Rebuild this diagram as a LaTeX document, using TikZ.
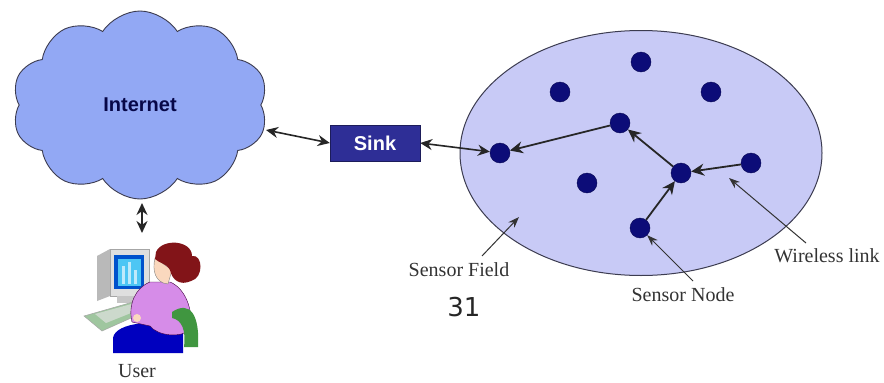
\documentclass[tikz,border=0pt]{standalone}
\usepackage{fontspec}
\setmainfont{Liberation Serif}
\newfontfamily\headsans{Liberation Sans}
\newfontfamily\numsans{DejaVu Sans}
\usetikzlibrary{shapes.symbols,shapes.geometric,arrows.meta}
\definecolor{cloudblue}{RGB}{146,168,244}
\definecolor{fieldblue}{RGB}{200,202,246}
\definecolor{nodeblue}{RGB}{12,12,120}
\definecolor{sinkblue}{RGB}{46,46,150}
\definecolor{edgegray}{RGB}{60,60,80}
\definecolor{blouse}{RGB}{214,140,232}
\definecolor{hair}{RGB}{130,20,24}
\definecolor{skin}{RGB}{250,216,190}
\begin{document}
\begin{tikzpicture}[x=1pt,y=-1pt,
  sensor/.style={circle,fill=nodeblue,draw=nodeblue!70!black,inner sep=0pt,minimum size=20pt},
  link/.style={draw=black!85,line width=1.8pt,-{Stealth[length=13pt,width=12pt]}},
  dlink/.style={draw=black!85,line width=1.6pt,{Stealth[length=12pt,width=11pt]}-{Stealth[length=12pt,width=11pt]}},
  pointer/.style={draw=black!80,line width=1pt,-{Stealth[length=11pt,width=8pt]}},
  lbl/.style={font=\fontsize{20}{22}\selectfont,text=black!80,inner sep=1pt}]
\useasboundingbox[fill=white] (0,0) rectangle (884,383);

% internet cloud
\node[cloud,cloud puffs=10,cloud puff arc=115,aspect=1.35,fill=cloudblue,draw=edgegray,line width=0.9pt,
  minimum width=256pt,minimum height=188pt,font=\headsans\bfseries\fontsize{20}{22}\selectfont,text=nodeblue!60!black]
  (net) at (140,105) {Internet};

% sink
\node[rectangle,fill=sinkblue,draw=sinkblue!60!black,minimum width=90pt,minimum height=36pt,
  font=\headsans\bfseries\fontsize{20}{22}\selectfont,text=white] (sink) at (375,143) {Sink};

% sensor field
\node[ellipse,fill=fieldblue,draw=edgegray,line width=1pt,minimum width=362pt,minimum height=245pt] (field) at (641,153) {};

% sensor nodes
\node[sensor] (n1) at (641,62) {};
\node[sensor] (n2) at (560,92) {};
\node[sensor] (n3) at (711,92) {};
\node[sensor] (n4) at (620,123) {};
\node[sensor] (n5) at (500,153) {};
\node[sensor] (n6) at (587,183) {};
\node[sensor] (n7) at (681,173) {};
\node[sensor] (n8) at (751,163) {};
\node[sensor] (n9) at (640,228) {};

% multi-hop routes
\draw[link] (n4) -- (n5);
\draw[link] (n7) -- (n4);
\draw[link] (n8) -- (n7);
\draw[link] (n9) -- (n7);

% links to the sink and the internet
\coordinate (netport) at (266,130);
\draw[dlink] (netport) -- (sink.west);
\draw[dlink] (sink.east) -- (n5);

% user
\coordinate (userport) at (142,233);
\draw[dlink,line width=2pt] (142,203) -- (userport);

% user at the desk
\begin{scope}
  % monitor
  \fill[gray!55] (97,256) -- (110,249) -- (110,296) -- (97,301) -- cycle;
  \fill[gray!25,draw=gray!70,line width=0.5pt] (110,249) rectangle (149,296);
  \fill[blue!60!cyan!80!black] (114,255) rectangle (144,289);
  \fill[cyan!70] (118,259) rectangle (141,286);
  \fill[cyan!25] (122,266) rectangle (125,284);
  \fill[cyan!25] (128,262) rectangle (131,284);
  \fill[cyan!25] (134,270) rectangle (137,284);
  \fill[gray!45] (117,296) rectangle (141,303);
  % desk and keyboard
  \fill[green!25!gray!60,draw=gray!70,line width=0.5pt] (84,316) -- (140,300) -- (158,306) -- (102,331) -- cycle;
  \fill[green!15!gray!35] (95,314) -- (135,303) -- (146,307) -- (106,323) -- cycle;
  % chair seat
  \fill[blue!75!black] (113,338) .. controls (115,322) and (160,318) .. (183,330) -- (183,353) -- (113,353) -- cycle;
  % body
  \fill[blouse,draw=violet!50!black,line width=0.4pt]
    (150,282) .. controls (135,288) and (128,305) .. (132,322)
    -- (150,326) .. controls (158,336) and (180,338) .. (190,330)
    .. controls (194,310) and (185,288) .. (170,282) -- cycle;
  % chair back
  \fill[green!45!black!75] (172,312) .. controls (190,300) and (200,315) .. (198,347) -- (184,347) .. controls (186,330) and (182,320) .. (172,318) -- cycle;
  % head and hair
  \fill[skin,draw=black!50,line width=0.4pt] (155,258) .. controls (152,270) and (155,283) .. (168,284) -- (172,270) -- cycle;
  \fill[hair] (156,252) .. controls (162,238) and (192,240) .. (192,256)
     .. controls (203,254) and (204,278) .. (191,281) .. controls (180,286) and (172,280) .. (170,270)
     .. controls (166,263) and (159,263) .. (155,259) -- cycle;
  \fill[skin] (137,318) circle (4);
\end{scope}
\node[lbl] (user) at (137,371) {User};

% labels
\node[lbl] (lfield) at (459,270) {Sensor Field};
\node[lbl] (lnode) at (683,295) {Sensor Node};
\node[lbl] (llink) at (827,256) {Wireless link};
\coordinate (fieldpt) at (519,217);
\coordinate (linkpt) at (729,178);
\draw[pointer] (482,256) -- (fieldpt);
\draw[pointer] (693,281) -- (n9);
\draw[pointer] (806,243) -- (linkpt);

\node[font=\numsans\fontsize{26}{28}\selectfont,text=black!85] (pagenum) at (464,307) {31};
\end{tikzpicture}
\end{document}
